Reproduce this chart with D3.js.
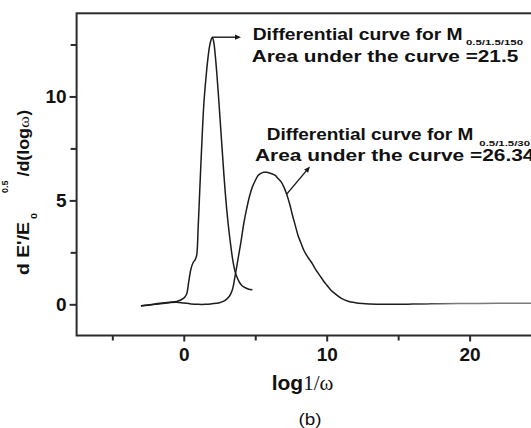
<!DOCTYPE html>
<html>
<head>
<meta charset="utf-8">
<script src="https://cdn.jsdelivr.net/npm/d3@7/dist/d3.min.js"></script>
<style>
  html, body { margin: 0; padding: 0; background: #fff; }
  svg { display: block; }
  text { font-family: "Liberation Sans", Arial, Helvetica, sans-serif; fill: #111; }
</style>
</head>
<body>
<svg id="chart" width="531" height="428"></svg>
<script>
// Differential curves dE'/E0^0.5 / d(log ω) against log 1/ω

// M 0.5/1.5/150 — narrow peak
const m150X = [-3.0, -2.5, -2.0, -1.5, -1.0, -0.5, 0.0, 0.2, 0.35, 0.5, 0.65, 0.8, 0.9, 1.0, 1.1, 1.2, 1.3, 1.4, 1.5, 1.6, 1.7, 1.8, 1.9, 2.0,
               2.1, 2.2, 2.3, 2.4, 2.5, 2.6, 2.7, 2.8, 2.9, 3.0, 3.1, 3.2, 3.3, 3.4, 3.5, 3.6, 3.7, 3.9, 4.1, 4.3, 4.5, 4.8];
const m150Y = [-0.07, -0.03, 0.02, 0.06, 0.1, 0.14, 0.3, 0.5, 1.1, 1.7, 2.0, 2.15, 2.35, 3.6, 5.2, 6.8, 8.3, 9.6, 10.5, 11.25, 11.9, 12.4, 12.7, 12.85,
               12.6, 12.0, 11.2, 10.3, 9.3, 8.3, 7.3, 6.3, 5.4, 4.6, 3.9, 3.3, 2.75, 2.25, 1.85, 1.55, 1.35, 1.05, 0.88, 0.8, 0.74, 0.7];

// M 0.5/1.5/30 — broad peak with long flat tail
const m30X = [-3.0, -2.5, -2.0, -1.5, -1.0, -0.5, 0.0, 0.5, 1.0, 1.5, 2.0, 2.5, 2.8, 3.0, 3.2, 3.4, 3.6, 3.8, 4.0, 4.2, 4.4, 4.6, 4.8, 5.0,
              5.2, 5.4, 5.6, 5.8, 6.0, 6.2, 6.4, 6.6, 6.8, 7.0, 7.2, 7.4, 7.6, 7.8, 8.0, 8.2, 8.4, 8.6, 8.8, 9.0, 9.2, 9.4, 9.6, 9.8,
              10.0, 10.3, 10.6, 11.0, 11.5, 12.0, 12.5, 13.0, 14.0, 15.0, 16.0, 17.0, 18.0, 20.0, 22.0, 24.5];
const m30Y = [-0.08, -0.04, 0.0, 0.04, 0.08, 0.1, 0.06, 0.02, 0.0, 0.0, 0.03, 0.08, 0.15, 0.25, 0.4, 0.7, 1.4, 2.2, 3.0, 3.9, 4.6, 5.2, 5.65, 5.95,
              6.2, 6.3, 6.35, 6.35, 6.32, 6.27, 6.2, 6.05, 5.9, 5.65, 5.3, 4.85, 4.3, 3.8, 3.3, 2.95, 2.6, 2.35, 2.15, 1.95, 1.7, 1.5, 1.3, 1.1,
              0.93, 0.68, 0.5, 0.3, 0.15, 0.08, 0.04, 0.02, 0.0, 0.0, 0.01, 0.02, 0.03, 0.04, 0.05, 0.05];

// Axis ticks
const xMajorTicks = [0, 10, 20];
const xMinorTicks = [-5, 5, 15, 25];
const yMajorTicks = [0, 5, 10];
const yMinorTicks = [2.5, 7.5, 12.5];

const svg = d3.select("#chart");

const x = d3.scaleLinear().domain([-7.5, 27.5]).range([76.6, 576.8]);
const y = d3.scaleLinear().domain([-1.5, 14]).range([335.5, 13.3]);

const axisColor = "#2b2b2b";
const curveColor = "#1c1c1c";

// Stroke for the broad curve greys out along the far tail
const defs = svg.append("defs");
const grad = defs.append("linearGradient")
  .attr("id", "tailFade")
  .attr("gradientUnits", "userSpaceOnUse")
  .attr("x1", x(15.5)).attr("x2", x(19)).attr("y1", 0).attr("y2", 0);
grad.append("stop").attr("offset", 0).attr("stop-color", curveColor);
grad.append("stop").attr("offset", 1).attr("stop-color", "#7a7a7a");

const line = d3.line().x(d => x(d[0])).y(d => y(d[1])).curve(d3.curveCatmullRom.alpha(0.5));

const m150 = m150X.map((v, i) => [v, m150Y[i]]);
const m30 = m30X.map((v, i) => [v, m30Y[i]]);

svg.append("path").datum(m30)
  .attr("d", line).attr("fill", "none")
  .attr("stroke", "url(#tailFade)").attr("stroke-width", 1.5)
  .attr("stroke-linejoin", "round");

svg.append("path").datum(m150)
  .attr("d", line).attr("fill", "none")
  .attr("stroke", curveColor).attr("stroke-width", 1.5)
  .attr("stroke-linejoin", "round");

// Frame
svg.append("rect")
  .attr("x", x.range()[0]).attr("y", y.range()[1])
  .attr("width", x.range()[1] - x.range()[0])
  .attr("height", y.range()[0] - y.range()[1])
  .attr("fill", "none").attr("stroke", axisColor).attr("stroke-width", 2);

// Bottom axis
const xAxis = svg.append("g").attr("transform", `translate(0,${y.range()[0]})`)
  .call(d3.axisBottom(x).tickValues(xMajorTicks).tickSize(6).tickPadding(6).tickFormat(d3.format("d")));
xAxis.select(".domain").remove();
xAxis.selectAll(".tick line").attr("stroke", axisColor).attr("stroke-width", 2);
xAxis.selectAll(".tick text").attr("font-size", 19).attr("font-weight", "bold")
  .attr("fill", "#111").style("font-family", "'Liberation Sans', Arial, sans-serif");
const xAxisMinor = svg.append("g").attr("transform", `translate(0,${y.range()[0]})`)
  .call(d3.axisBottom(x).tickValues(xMinorTicks).tickSize(5).tickFormat(""));
xAxisMinor.select(".domain").remove();
xAxisMinor.selectAll(".tick line").attr("stroke", axisColor).attr("stroke-width", 2);

// Left axis
const yAxis = svg.append("g").attr("transform", `translate(${x.range()[0]},0)`)
  .call(d3.axisLeft(y).tickValues(yMajorTicks).tickSize(7).tickPadding(3).tickFormat(d3.format("d")));
yAxis.select(".domain").remove();
yAxis.selectAll(".tick line").attr("stroke", axisColor).attr("stroke-width", 2);
yAxis.selectAll(".tick text").attr("font-size", 19).attr("font-weight", "bold")
  .attr("fill", "#111").style("font-family", "'Liberation Sans', Arial, sans-serif");
const yAxisMinor = svg.append("g").attr("transform", `translate(${x.range()[0]},0)`)
  .call(d3.axisLeft(y).tickValues(yMinorTicks).tickSize(6).tickFormat(""));
yAxisMinor.select(".domain").remove();
yAxisMinor.selectAll(".tick line").attr("stroke", axisColor).attr("stroke-width", 2);

// Axis titles
const xt = svg.append("text").attr("x", 271.7).attr("y", 390);
xt.append("tspan").attr("font-weight", "bold").attr("font-size", 21).text("log");
xt.append("tspan").attr("font-size", 21)
  .style("font-family", "'Liberation Serif', 'Times New Roman', serif").text("1/ω");

// Panel tag
svg.append("text").attr("x", 298.5).attr("y", 424.5)
  .attr("font-size", 16.5).attr("textLength", 23).attr("lengthAdjust", "spacingAndGlyphs")
  .text("(b)");

// Rotated y title built from pieces along the rotated baseline
const yt = svg.append("g").attr("transform", "translate(29,0) rotate(-90)");
function yPiece(txt, from, to, dy, size) {
  yt.append("text").attr("x", -from).attr("y", dy)
    .attr("font-size", size).attr("font-weight", "bold")
    .attr("textLength", from - to).attr("lengthAdjust", "spacingAndGlyphs")
    .text(txt);
}
yPiece("d E'/E", 275, 222, 0, 17);
yPiece("0", 219, 213, 8, 8.5);
yPiece("0.5", 193, 180.5, -21, 8.5);
yPiece("/d(log", 176.5, 128, 0, 17);
yt.append("text").attr("x", -128).attr("y", 0).attr("font-size", 15)
  .attr("textLength", 12).attr("lengthAdjust", "spacingAndGlyphs")
  .style("font-family", "'Liberation Serif', serif").text("ω");
yPiece(")", 115.5, 110, 0, 17);

// Annotations
function label(txt, x0, x1, base, size) {
  svg.append("text").attr("x", x0).attr("y", base)
    .attr("font-size", size).attr("font-weight", "bold")
    .attr("textLength", x1 - x0).attr("lengthAdjust", "spacingAndGlyphs")
    .text(txt);
}
function arrow(x0, y0, x1, y1) {
  const ang = Math.atan2(y1 - y0, x1 - x0), L = 6, W = 2.6;
  svg.append("line").attr("x1", x0).attr("y1", y0)
    .attr("x2", x1 - Math.cos(ang) * L * 0.8).attr("y2", y1 - Math.sin(ang) * L * 0.8)
    .attr("stroke", "#1a1a1a").attr("stroke-width", 1.4);
  const bx = x1 - Math.cos(ang) * L, by = y1 - Math.sin(ang) * L;
  svg.append("path")
    .attr("d", `M${x1},${y1}L${bx - Math.sin(ang) * W},${by + Math.cos(ang) * W}L${bx + Math.sin(ang) * W},${by - Math.cos(ang) * W}Z`)
    .attr("fill", "#1a1a1a");
}

// Narrow-peak annotation: arrow leaves from the curve maximum
const peakIdx = d3.maxIndex(m150Y);
arrow(x(m150X[peakIdx]), y(m150Y[peakIdx]), 241, y(m150Y[peakIdx]));
label("Differential curve for M", 252.7, 462.7, 39.5, 16.5);
label("0.5/1.5/150", 466, 523, 44.5, 7.5);
label("Area under the curve =21.5", 251.7, 518.3, 62, 16.5);

// Broad-peak annotation: arrow leaves from the falling side near x = 7.2
const i30 = m30X.indexOf(7.2);
arrow(x(m30X[i30]), y(m30Y[i30]), 310, 166.5);
label("Differential curve for M", 266.7, 473.3, 140, 16.5);
label("0.5/1.5/30", 479.3, 530, 145.5, 7.5);
label("Area under the curve =26.34", 255, 534.5, 160.5, 16.5);
</script>
</body>
</html>
